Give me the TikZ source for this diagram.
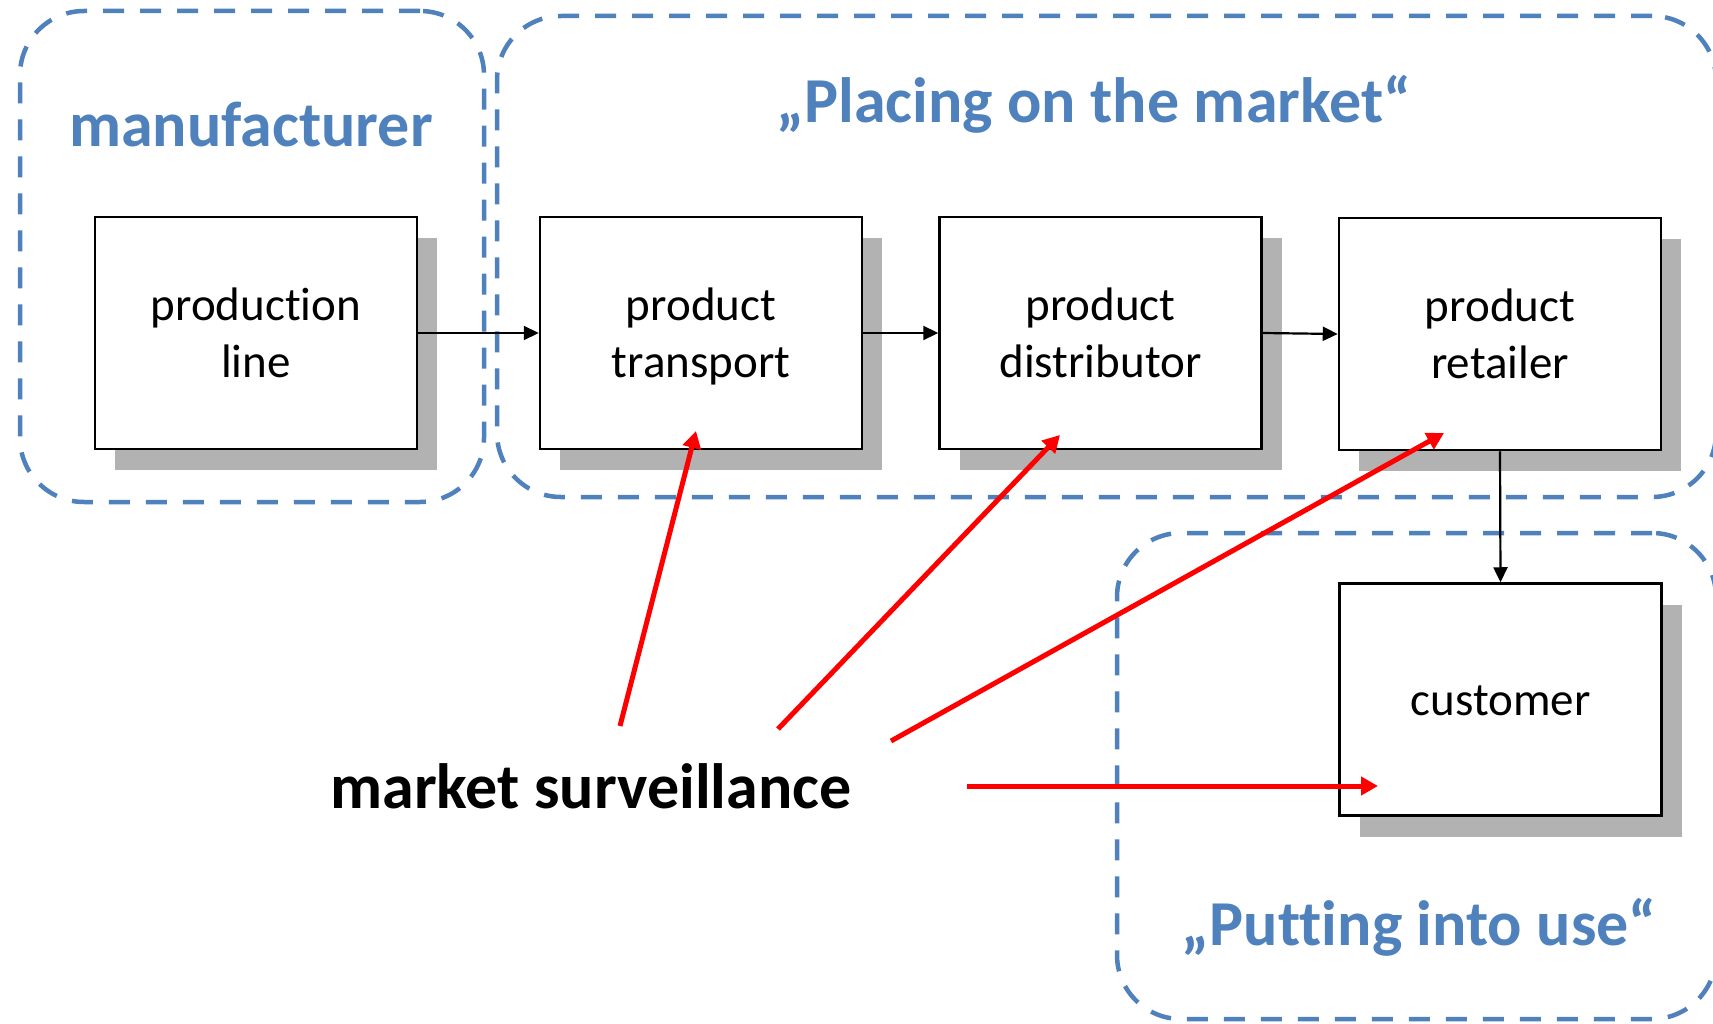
\documentclass[tikz,border=0pt]{standalone}
\usepackage{fontspec}
\setmainfont{Carlito}[Ligatures=NoCommon]
\usetikzlibrary{arrows.meta,shadows}
\definecolor{zoneblue}{HTML}{4F81BD}
\definecolor{shadowgray}{HTML}{B2B2B2}
\definecolor{mred}{HTML}{FF0000}
\newcommand\strA{\rule{0pt}{43pt}}
\newcommand\strB{\rule[-12pt]{0pt}{12pt}}
\begin{document}
\begin{tikzpicture}[x=1pt,y=-1pt,
  zone/.style={draw=zoneblue, line width=4.5pt, dash pattern=on 21pt off 16pt,
    rounded corners=64pt, rectangle, inner sep=0pt},
  stage/.style={draw=black, line width=2.5pt, fill=white, rectangle,
    minimum width=322pt, minimum height=232pt, inner sep=0pt, align=center,
    font=\fontsize{47}{57}\selectfont,
    general shadow={fill=shadowgray, shadow xshift=20pt, shadow yshift=-21pt}},
  title/.style={text=zoneblue, font=\fontsize{64}{76}\selectfont\bfseries,
    anchor=base, inner sep=0pt},
  flow/.style={-{Triangle[length=15pt,width=14pt]}, line width=2.2pt},
  watch/.style={-{Triangle[length=17pt,width=18pt]}, draw=mred, line width=5pt}]

\fill[white] (0,0) rectangle (1713,1024);
\useasboundingbox (0,0) rectangle (1713,1024);

% zones
\node[zone, minimum width=464pt, minimum height=491pt] (zmanuf) at (252,256.5) {};
\node[zone, minimum width=1219pt, minimum height=481pt] (zplace) at (1106.5,256.5) {};
\node[zone, minimum width=599pt, minimum height=486pt] (zuse) at (1416.5,776) {};

% zone titles
\node[title] (tmanuf) at (251,147) {manufacturer};
\node[title] (tplace) at (1094,123) {„Placing on the market“};
\node[title] (tuse) at (1419,945) {„Putting into use“};

% stages
\node[stage] (pl) at (256,333) {\strA production\\line\strB};
\node[stage] (pt) at (701,333) {\strA product\\transport\strB};
\node[stage] (pd) at (1100.5,333) {\strA product\\distributor\strB};
\node[stage] (pr) at (1500,334) {\strA product\\retailer\strB};
\node[stage] (cu) at (1500.5,699.5) {\strA customer\strB};

% flow
\draw[flow] (pl.east) -- (pt.west);
\draw[flow] (pt.east) -- (pd.west);
\draw[flow] (pd.east) -- (pr.west);
\draw[flow] (pr.south) -- (cu.north);

% market surveillance
\node[anchor=base, inner sep=0pt, font=\fontsize{64}{76}\selectfont\bfseries] (ms) at (591,808) {market surveillance};

\coordinate (s1) at (620,726);
\coordinate (t1) at (696,431);
\coordinate (s2) at (778,729);
\coordinate (t2) at (1060,435);
\coordinate (s3) at (891,741);
\coordinate (t3) at (1444,433);
\coordinate (s4) at (967,786);
\coordinate (t4) at (1378,786);

\draw[watch] (s1) -- (t1);
\draw[watch] (s2) -- (t2);
\draw[watch] (s3) -- (t3);
\draw[watch] (s4) -- (t4);
\end{tikzpicture}
\end{document}
